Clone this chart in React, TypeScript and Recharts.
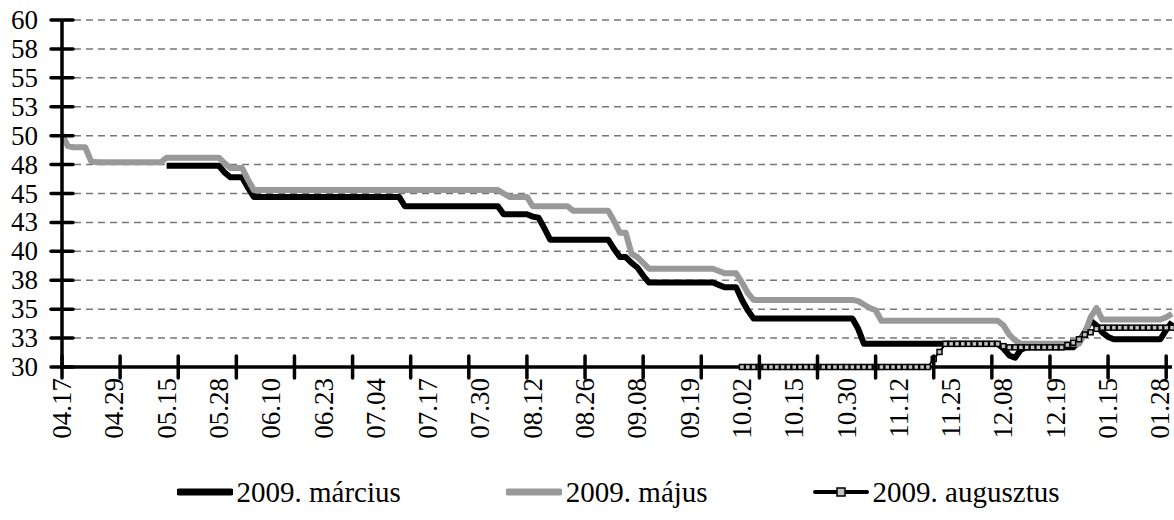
import { LineChart, Line, XAxis, YAxis, CartesianGrid, Legend } from 'recharts'

const FONT = "'Liberation Serif', Tinos, 'DejaVu Serif', 'Noto Serif', serif"

// one label every 9 trading days, tick marks every 10
const dateLabels = [
  '04.17', '04.29', '05.15', '05.28', '06.10', '06.23', '07.04', '07.17', '07.30', '08.12', '08.26',
  '09.08', '09.19', '10.02', '10.15', '10.30', '11.12', '11.25', '12.08', '12.19', '01.15', '01.28',
]
const labelStep = 9
const tickStep = 10
const lastIndex = 191

const yTicks = [30, 32.5, 35, 37.5, 40, 42.5, 45, 47.5, 50, 52.5, 55, 57.5, 60]

// 2009. május – starts at index 0
const may = [
  50.1, 49.1, 49.0, 49.0, 49.0, 47.8, 47.7, 47.7, 47.7, 47.7,
  47.7, 47.7, 47.7, 47.7, 47.7, 47.7, 47.7, 47.7, 48.1, 48.1,
  48.1, 48.1, 48.1, 48.1, 48.1, 48.1, 48.1, 48.1, 47.6, 47.2,
  47.2, 47.2, 46.2, 45.3, 45.3, 45.3, 45.3, 45.3, 45.3, 45.3,
  45.3, 45.3, 45.3, 45.3, 45.3, 45.3, 45.3, 45.3, 45.3, 45.3,
  45.3, 45.3, 45.3, 45.3, 45.3, 45.3, 45.3, 45.3, 45.3, 45.3,
  45.3, 45.3, 45.3, 45.3, 45.3, 45.3, 45.3, 45.3, 45.3, 45.3,
  45.3, 45.3, 45.3, 45.3, 45.3, 45.3, 45.0, 44.7, 44.7, 44.7,
  44.7, 43.9, 43.9, 43.9, 43.9, 43.9, 43.9, 43.9, 43.5, 43.5,
  43.5, 43.5, 43.5, 43.5, 43.5, 42.6, 41.6, 41.6, 39.8, 39.5,
  39.0, 38.5, 38.5, 38.5, 38.5, 38.5, 38.5, 38.5, 38.5, 38.5,
  38.5, 38.5, 38.5, 38.3, 38.1, 38.1, 38.1, 37.3, 36.4, 35.8,
  35.8, 35.8, 35.8, 35.8, 35.8, 35.8, 35.8, 35.8, 35.8, 35.8,
  35.8, 35.8, 35.8, 35.8, 35.8, 35.8, 35.8, 35.7, 35.4, 35.1,
  34.9, 34.0, 34.0, 34.0, 34.0, 34.0, 34.0, 34.0, 34.0, 34.0,
  34.0, 34.0, 34.0, 34.0, 34.0, 34.0, 34.0, 34.0, 34.0, 34.0,
  34.0, 34.0, 33.6, 32.8, 32.3, 32.0, 32.0, 32.0, 32.0, 32.0,
  32.0, 32.0, 32.0, 32.0, 32.0, 32.0, 32.9, 34.3, 35.1, 34.1,
  34.1, 34.1, 34.1, 34.1, 34.1, 34.1, 34.1, 34.1, 34.1, 34.1,
  34.3, 34.6,
]

// 2009. március – starts at index 18
const marchStart = 18
const march = [
  47.4, 47.4,
  47.4, 47.4, 47.4, 47.4, 47.4, 47.4, 47.4, 47.4, 46.8, 46.4,
  46.4, 46.4, 45.5, 44.7, 44.7, 44.7, 44.7, 44.7, 44.7, 44.7,
  44.7, 44.7, 44.7, 44.7, 44.7, 44.7, 44.7, 44.7, 44.7, 44.7,
  44.7, 44.7, 44.7, 44.7, 44.7, 44.7, 44.7, 44.7, 44.7, 43.9,
  43.9, 43.9, 43.9, 43.9, 43.9, 43.9, 43.9, 43.9, 43.9, 43.9,
  43.9, 43.9, 43.9, 43.9, 43.9, 43.9, 43.2, 43.2, 43.2, 43.2,
  43.2, 43.0, 42.9, 42.0, 41.0, 41.0, 41.0, 41.0, 41.0, 41.0,
  41.0, 41.0, 41.0, 41.0, 41.0, 40.2, 39.5, 39.5, 39.0, 38.6,
  37.9, 37.3, 37.3, 37.3, 37.3, 37.3, 37.3, 37.3, 37.3, 37.3,
  37.3, 37.3, 37.3, 37.1, 36.9, 36.9, 36.9, 35.8, 34.9, 34.2,
  34.2, 34.2, 34.2, 34.2, 34.2, 34.2, 34.2, 34.2, 34.2, 34.2,
  34.2, 34.2, 34.2, 34.2, 34.2, 34.2, 34.2, 33.3, 32.0, 32.0,
  32.0, 32.0, 32.0, 32.0, 32.0, 32.0, 32.0, 32.0, 32.0, 32.0,
  32.0, 32.0, 32.0, 32.0, 32.0, 32.0, 32.0, 32.0, 32.0, 32.0,
  32.0, 32.0, 31.6, 31.0, 30.8, 31.5, 31.7, 31.7, 31.7, 31.7,
  31.7, 31.7, 31.7, 31.7, 31.7, 32.2, 33.0, 34.0, 33.6, 33.0,
  32.6, 32.4, 32.4, 32.4, 32.4, 32.4, 32.4, 32.4, 32.4, 32.4,
  33.2, 33.9,
]

// 2009. augusztus – starts at index 117
const augStart = 117
const aug = [
  30.0, 30.0, 30.0,
  30.0, 30.0, 30.0, 30.0, 30.0, 30.0, 30.0, 30.0, 30.0, 30.0,
  30.0, 30.0, 30.0, 30.0, 30.0, 30.0, 30.0, 30.0, 30.0, 30.0,
  30.0, 30.0, 30.0, 30.0, 30.0, 30.0, 30.0, 30.0, 30.0, 30.0,
  30.7, 31.3, 32.0, 32.0, 32.0, 32.0, 32.0, 32.0, 32.0, 32.0,
  32.0, 32.0, 31.8, 31.7, 31.7, 31.7, 31.7, 31.7, 31.7, 31.7,
  31.7, 31.7, 31.7, 31.9, 32.1, 32.4, 32.8, 33.0, 33.3, 33.4,
  33.4, 33.4, 33.4, 33.4, 33.4, 33.4, 33.4, 33.4, 33.4, 33.4,
  33.4, 33.4,
]

const seriesNames = ['2009. március', '2009. május', '2009. augusztus']

const data = may.map((v, i) => ({
  i,
  marc: i >= marchStart ? march[i - marchStart] : null,
  maj: v,
  aug: i >= augStart ? aug[i - augStart] : null,
}))

const xTicks = Array.from(
  new Set([
    ...dateLabels.map((_, k) => k * labelStep),
    ...Array.from({ length: Math.floor(lastIndex / tickStep) + 1 }, (_, k) => k * tickStep),
  ]),
).sort((a, b) => a - b)

function XTick({ x, y, payload }: any) {
  const v = payload.value as number
  return (
    <g>
      {v % tickStep === 0 && (
        <line x1={x} x2={x} y1={y - 11} y2={y + 11} stroke="#000" strokeWidth={3.5} strokeLinecap="round" />
      )}
      {v % labelStep === 0 && (
        <text
          x={x}
          y={y + 11}
          transform={`rotate(-90 ${x} ${y + 11})`}
          textAnchor="end"
          dominantBaseline="central"
          style={{ fontFamily: FONT, fontSize: 27 }}
          fill="#000"
        >
          {dateLabels[v / labelStep]}
        </text>
      )}
    </g>
  )
}

function YTick({ x, y, payload }: any) {
  return (
    <g>
      <line x1={x - 11} x2={x + 11} y1={y} y2={y} stroke="#000" strokeWidth={3.5} strokeLinecap="round" />
      <text x={x - 24} y={y} textAnchor="end" dominantBaseline="central" style={{ fontFamily: FONT, fontSize: 27 }} fill="#000">
        {Math.round(payload.value)}
      </text>
    </g>
  )
}

function SquareDot(props: any) {
  const { cx, cy, index } = props
  if (cx == null || cy == null) return <g key={`d${index}`} />
  return (
    <rect key={`d${index}`} x={cx - 2.5} y={cy - 2.5} width={5} height={5} fill="#c4c4c4" stroke="#000" strokeWidth={1.5} />
  )
}

function LegendContent() {
  const marks = [
    <line x1={2} x2={54} y1={8} y2={8} stroke="#000" strokeWidth={7} strokeLinecap="round" />,
    <line x1={2} x2={54} y1={8} y2={8} stroke="#999" strokeWidth={7} strokeLinecap="round" />,
    <g>
      <line x1={2} x2={54} y1={8} y2={8} stroke="#000" strokeWidth={4} strokeLinecap="round" />
      <rect x={24} y={4} width={8} height={8} fill="#c4c4c4" stroke="#000" strokeWidth={1.5} />
    </g>,
  ]
  return (
    <div style={{ display: 'flex', justifyContent: 'center', gap: 105, fontFamily: FONT, fontSize: 29, lineHeight: '40px', color: '#000' }}>
      {seriesNames.map((name, k) => (
        <div key={name} style={{ display: 'flex', alignItems: 'center', gap: 4 }}>
          <svg width={56} height={16}>{marks[k]}</svg>
          <span>{name}</span>
        </div>
      ))}
    </div>
  )
}

export default function App() {
  return (
    <div style={{ position: 'absolute', left: 0, top: 0, background: '#fff', fontFamily: FONT }}>
      <LineChart width={1174} height={520} data={data} margin={{ top: 20, right: 2, bottom: 53, left: 0 }}>
        <CartesianGrid vertical={false} stroke="#777" strokeDasharray="7 5" strokeWidth={1.5} />
        <XAxis
          dataKey="i"
          type="number"
          domain={[0, lastIndex]}
          ticks={xTicks}
          interval={0}
          tickSize={0}
          tickMargin={0}
          tickLine={false}
          axisLine={{ stroke: '#000', strokeWidth: 3.5 }}
          tick={<XTick />}
          height={100}
        />
        <YAxis
          type="number"
          domain={[30, 60]}
          ticks={yTicks}
          interval={0}
          tickSize={0}
          tickMargin={0}
          tickLine={false}
          axisLine={{ stroke: '#000', strokeWidth: 3.5 }}
          tick={<YTick />}
          width={62}
        />
        <Legend
          layout="horizontal"
          verticalAlign="middle"
          align="center"
          wrapperStyle={{ top: 472, left: 62, width: 1112, height: 40 }}
          content={<LegendContent />}
        />
        <Line
          dataKey="marc"
          name={seriesNames[0]}
          type="linear"
          stroke="#000"
          strokeWidth={6}
          strokeLinejoin="round"
          dot={false}
          isAnimationActive={false}
        />
        <Line
          dataKey="maj"
          name={seriesNames[1]}
          type="linear"
          stroke="#999"
          strokeWidth={6}
          strokeLinejoin="round"
          dot={false}
          isAnimationActive={false}
        />
        <Line
          dataKey="aug"
          name={seriesNames[2]}
          type="linear"
          stroke="#000"
          strokeWidth={2}
          dot={SquareDot}
          isAnimationActive={false}
        />
      </LineChart>
    </div>
  )
}
